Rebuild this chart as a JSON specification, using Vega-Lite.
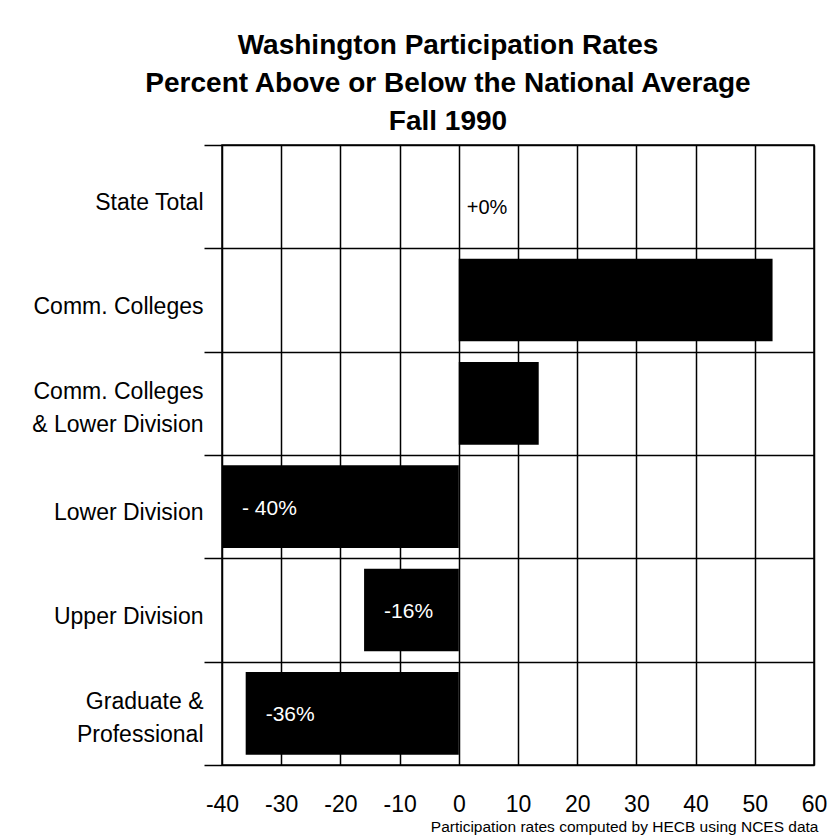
{
  "$schema": "https://vega.github.io/schema/vega-lite/v6.json",
  "width": 592,
  "height": 620,
  "autosize": {"type": "none"},
  "padding": {"left": 222, "top": 145, "right": 16, "bottom": 70},
  "background": "white",
  "title": {
    "text": ["Washington Participation Rates", "Percent Above or Below the National Average", "Fall 1990"],
    "font": "Liberation Sans",
    "fontSize": 28,
    "fontWeight": "bold",
    "lineHeight": 38,
    "anchor": "middle",
    "dx": -70,
    "offset": -2,
    "color": "black"
  },
  "data": {
    "values": [
      {"category": "State Total", "value": 0, "label": "+0%"},
      {"category": "Comm. Colleges", "value": 53, "label": ""},
      {"category": "Comm. Colleges & Lower Division", "value": 13.5, "label": ""},
      {"category": "Lower Division", "value": -40, "label": "- 40%"},
      {"category": "Upper Division", "value": -16, "label": "-16%"},
      {"category": "Graduate & Professional", "value": -36, "label": "-36%"}
    ]
  },
  "encoding": {
    "y": {
      "field": "category",
      "type": "nominal",
      "sort": null,
      "scale": {"paddingInner": 0, "paddingOuter": 0},
      "axis": {
        "title": null,
        "domain": false,
        "grid": true,
        "gridColor": "black",
        "gridOpacity": 1,
        "gridWidth": 1.5,
        "tickBand": "extent",
        "ticks": true,
        "tickSize": 18,
        "tickColor": "black",
        "tickWidth": 1.5,
        "labelPadding": 1,
        "labelFont": "Liberation Sans",
        "labelFontSize": 23,
        "labelColor": "black",
        "labelLineHeight": 33,
        "labelLimit": 300,
        "labelOffset": {"condition": {"test": "indexof(datum.label, '&') >= 0", "value": -12}, "value": 6},
        "labelExpr": "datum.label == 'Comm. Colleges & Lower Division' ? ['Comm. Colleges', '& Lower Division'] : datum.label == 'Graduate & Professional' ? ['Graduate &', 'Professional'] : datum.label"
      }
    }
  },
  "layer": [
    {
      "mark": {"type": "bar", "color": "black", "height": {"band": 0.8}},
      "encoding": {
        "x": {
          "field": "value",
          "type": "quantitative",
          "scale": {"domain": [-40, 60], "nice": false, "zero": false},
          "axis": {
            "values": [-40, -30, -20, -10, 0, 10, 20, 30, 40, 50, 60],
            "labelExpr": "datum.value + ''",
            "domain": false,
            "ticks": false,
            "grid": true,
            "gridColor": "black",
            "gridOpacity": 1,
            "gridWidth": 1.5,
            "labelFont": "Liberation Sans",
            "labelFontSize": 23,
            "labelColor": "black",
            "labelPadding": 28,
            "labelFlush": false,
            "title": "Participation rates computed by HECB using NCES data",
            "titleFont": "Liberation Sans",
            "titleFontSize": 15.5,
            "titleFontWeight": "normal",
            "titleColor": "black",
            "titleAnchor": "end",
            "titleX": 596,
            "titleAlign": "right",
            "titlePadding": 3
          }
        }
      }
    },
    {
      "transform": [{"filter": "datum.value < 0"}],
      "mark": {"type": "text", "color": "white", "align": "left", "dx": 20, "dy": 2, "font": "Liberation Sans", "fontSize": 21},
      "encoding": {
        "x": {"field": "value", "type": "quantitative"},
        "text": {"field": "label"}
      }
    },
    {
      "transform": [{"filter": "datum.category == 'State Total'"}],
      "mark": {"type": "text", "color": "black", "align": "left", "dx": 8, "dy": 11, "font": "Liberation Sans", "fontSize": 20},
      "encoding": {
        "x": {"field": "value", "type": "quantitative"},
        "text": {"field": "label"}
      }
    }
  ],
  "config": {
    "view": {"stroke": "black", "strokeWidth": 1.5}
  }
}
